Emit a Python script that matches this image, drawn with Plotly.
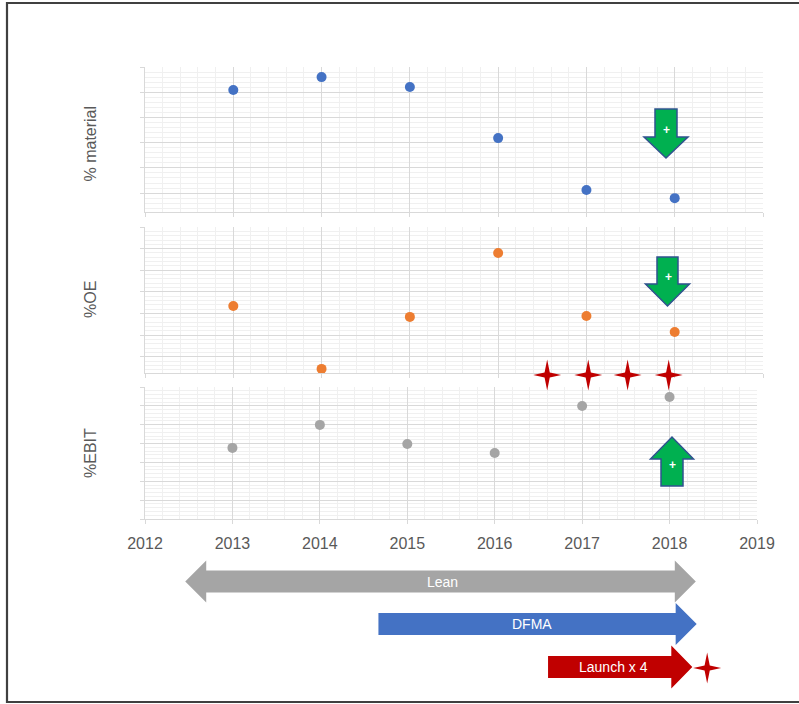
import plotly.graph_objects as go

# ---------------- data ----------------
years = [2013, 2014, 2015, 2016, 2017, 2018]
material = [5.09, 5.60, 5.21, 3.18, 1.12, 0.80]
oe = [2.35, -0.55, 1.85, 4.80, 1.89, 1.15]
ebit = [3.77, 4.99, 3.98, 3.50, 5.99, 6.47]
year_ticks = [2012, 2013, 2014, 2015, 2016, 2017, 2018, 2019]
panel_titles = ["% material", "%OE", "%EBIT"]
programs = ["Lean", "DFMA", "Launch x 4"]
program_start = [2012.46, 2014.67, 2016.61]
program_end = [2018.30, 2018.31, 2018.26]
launch_years = [2016.60, 2017.07, 2017.52, 2017.99]

# ---------------- layout helpers ----------------
W, H = 799, 704
def px(x):
    return x / W
def py(y):
    return 1 - y / H

GRID = "#D9D9D9"
MINOR = "#F0F0F0"
TXT = "#595959"
FONT = "Liberation Sans"

# panel pixel boxes: (x0, x1, ytop, ybottom)
panels = [(145, 763, 67, 212), (145, 763, 227, 373), (145, 757, 387, 519)]
yranges = [[0.25, 6], [-0.74, 6], [0, 7]]
series = [material, oe, ebit]
colors = ["#4472C4", "#ED7D31", "#A5A5A5"]

fig = go.Figure()
for i in range(3):
    fig.add_trace(go.Scatter(
        x=years, y=series[i], mode="markers",
        marker=dict(color=colors[i], size=10),
        xaxis="x" if i == 0 else f"x{i+1}",
        yaxis="y" if i == 0 else f"y{i+1}",
        cliponaxis=False, hoverinfo="x+y"))

layout = dict(width=W, height=H, autosize=False,
              margin=dict(l=0, r=0, t=0, b=0, pad=0, autoexpand=False),
              paper_bgcolor="white", plot_bgcolor="white", showlegend=False,
              font=dict(family=FONT, color=TXT))
for i, (x0, x1, yt, yb) in enumerate(panels):
    sfx = "" if i == 0 else str(i + 1)
    layout["xaxis" + sfx] = dict(
        domain=[px(x0), px(x1)], range=[2012, 2019], tick0=2012, dtick=1,
        tickvals=year_ticks, showgrid=True, gridcolor=GRID, gridwidth=1,
        minor=dict(dtick=0.2, tick0=2012, showgrid=True, gridcolor=MINOR, ticks=""),
        showline=True, linecolor=GRID, ticks="outside", ticklen=4, tickcolor=GRID,
        showticklabels=(i == 2), tickfont=dict(size=16, color=TXT, family=FONT),
        ticklabelstandoff=6, automargin=False,
        anchor="y" + sfx, zeroline=False, fixedrange=True)
    layout["yaxis" + sfx] = dict(
        domain=[py(yb), py(yt)], range=yranges[i], dtick=1, tick0=0,
        showgrid=True, gridcolor=GRID, gridwidth=1,
        minor=dict(dtick=0.2, tick0=0, showgrid=True, gridcolor=MINOR, ticks=""),
        showline=True, linecolor=GRID, ticks="outside", ticklen=4, tickcolor=GRID,
        showticklabels=False, zeroline=False, anchor="x" + sfx, fixedrange=True,
        automargin=False)
fig.update_layout(**layout)

shapes = []
annotations = []

# panel titles
for i, (x0, x1, yt, yb) in enumerate(panels):
    annotations.append(dict(xref="paper", yref="paper", x=px(90), y=py((yt + yb) / 2 + (4 if i == 0 else 0)),
                            text=panel_titles[i], showarrow=False, textangle=-90,
                            font=dict(size=16, color=TXT, family=FONT),
                            xanchor="center", yanchor="middle"))

# outer frame
shapes.append(dict(type="rect", xref="paper", yref="paper", x0=px(7), x1=px(812),
                   y0=py(702), y1=py(3), line=dict(color="#404040", width=2.2),
                   fillcolor="rgba(0,0,0,0)", layer="above"))

# green block arrows (px coordinates)
def block_arrow(cx, y_tail, y_head_base, y_tip, shaft_half, head_half):
    pts = [(cx - shaft_half, y_tail), (cx + shaft_half, y_tail), (cx + shaft_half, y_head_base),
           (cx + head_half, y_head_base), (cx, y_tip), (cx - head_half, y_head_base),
           (cx - shaft_half, y_head_base)]
    return "M " + " L ".join(f"{px(a):.5f},{py(b):.5f}" for a, b in pts) + " Z"

green_arrows = [(666, 109, 137, 158, 11, 22, 130),
                (667.5, 257, 284, 306, 10.5, 22, 277),
                (672, 486, 459, 437, 11, 21.5, 465)]
for cx, yt_, yhb, ytip, sh, hh, plus_y in green_arrows:
    shapes.append(dict(type="path", xref="paper", yref="paper",
                       path=block_arrow(cx, yt_, yhb, ytip, sh, hh),
                       fillcolor="#00B050", line=dict(color="#2F528F", width=1.5), layer="above"))
    annotations.append(dict(xref="paper", yref="paper", x=px(cx + 0.5), y=py(plus_y), text="<b>+</b>",
                            showarrow=False, font=dict(size=12, color="white", family=FONT),
                            xanchor="center", yanchor="middle"))

# four-point stars (x in years on x3, y in px)
def star_path(cx_year, cy, rx, ry, rin):
    k = 1 / 87.43  # years per pixel on x3
    pts = [(0, -ry), (rin, -rin), (rx, 0), (rin, rin), (0, ry), (-rin, rin), (-rx, 0), (-rin, -rin)]
    return "M " + " L ".join(f"{cx_year + a * k:.5f},{py(cy + b):.5f}" for a, b in pts) + " Z"

STAR = "#C00000"
for yr in launch_years:
    shapes.append(dict(type="path", xref="x3", yref="paper", path=star_path(yr, 375, 14, 15.5, 2.6),
                       fillcolor=STAR, line=dict(width=0), layer="above"))

# timeline arrows (x in years on x3, y in px)
k = 1 / 87.43
def h_arrow(x_start, x_end, yc, shaft_h, head_h, head_len, double=False):
    hl = head_len * k
    if double:
        pts = [(x_start, yc), (x_start + hl, yc - head_h), (x_start + hl, yc - shaft_h),
               (x_end - hl, yc - shaft_h), (x_end - hl, yc - head_h), (x_end, yc),
               (x_end - hl, yc + head_h), (x_end - hl, yc + shaft_h), (x_start + hl, yc + shaft_h),
               (x_start + hl, yc + head_h)]
    else:
        pts = [(x_start, yc - shaft_h), (x_end - hl, yc - shaft_h), (x_end - hl, yc - head_h),
               (x_end, yc), (x_end - hl, yc + head_h), (x_end - hl, yc + shaft_h), (x_start, yc + shaft_h)]
    return "M " + " L ".join(f"{a:.5f},{py(b):.5f}" for a, b in pts) + " Z"

tl_colors = ["#A5A5A5", "#4472C4", "#C00000"]
tl_y = [581.5, 624, 667]
tl_shaft = [11, 11, 11]
tl_head = [21, 21, 21.5]
tl_len = [21, 21, 21]
tl_text_x = [2015.40, 2016.43, 2017.36]
for i in range(3):
    shapes.append(dict(type="path", xref="x3", yref="paper",
                       path=h_arrow(program_start[i], program_end[i], tl_y[i], tl_shaft[i], tl_head[i],
                                    tl_len[i], double=(i == 0)),
                       fillcolor=tl_colors[i], line=dict(width=0), layer="above"))
    annotations.append(dict(xref="x3", yref="paper", x=tl_text_x[i], y=py(tl_y[i]), text=programs[i],
                            showarrow=False, font=dict(size=14, color="white", family=FONT),
                            xanchor="center", yanchor="middle"))

# star after launch arrow
shapes.append(dict(type="path", xref="x3", yref="paper", path=star_path(2018.43, 668, 14, 15.5, 2.6),
                   fillcolor=STAR, line=dict(width=0), layer="above"))

fig.update_layout(shapes=shapes, annotations=annotations)
fig.write_html("out.html")
